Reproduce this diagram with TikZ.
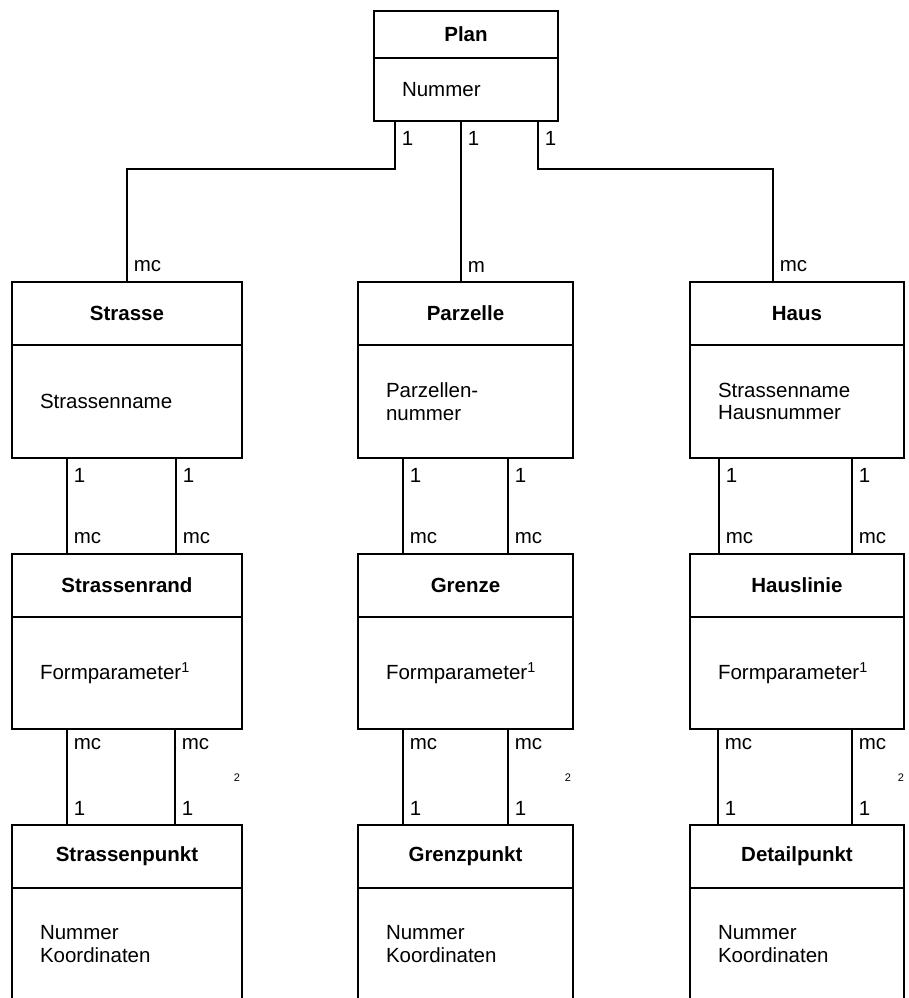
\documentclass[tikz,border=0pt]{standalone}
\usepackage{fontspec}
\setmainfont{Liberation Sans}

\newcommand{\titleh}{63}
\newcommand{\bodyh}{112}
\newcommand{\txtfont}{\fontsize{20.5}{22.5}\selectfont}

\tikzset{
  titlebox/.style={draw, line width=1.8pt, outer sep=0pt, inner sep=0pt,
    minimum height=\titleh, font=\txtfont\bfseries},
  bodybox/.style={draw, line width=1.8pt, outer sep=0pt, inner xsep=28pt,
    inner ysep=0pt, minimum height=\bodyh, align=left, font=\txtfont},
  card/.style={inner xsep=6pt, inner ysep=9pt, font=\txtfont},
  conn/.style={line width=1.8pt},
  fnote/.style={inner sep=0pt, font=\fontsize{11}{12}\selectfont}
}

\begin{document}
\begin{tikzpicture}[x=1pt,y=-1pt]
     \clip (0,0) rectangle (909,998);

     % entities: name/left/top/width/title height/body height/title/attributes
     \foreach \n/\x/\y/\w/\hT/\hB/\ti/\tx in {
        plan/374/11/184/47/63/Plan/Nummer,
        strasse/12/282/230/63/113/Strasse/Strassenname,
        parzelle/358/282/215/63/113/Parzelle/{Parzellen-\\nummer},
        haus/690/282/214/63/113/Haus/{Strassenname\\Hausnummer},
        rand/12/554/230/63/112/Strassenrand/{Formparameter\textsuperscript{1}},
        grenze/358/554/215/63/112/Grenze/{Formparameter\textsuperscript{1}},
        linie/690/554/214/63/112/Hauslinie/{Formparameter\textsuperscript{1}},
        spunkt/12/825/230/63/112/Strassenpunkt/{Nummer\\Koordinaten},
        gpunkt/358/825/215/63/112/Grenzpunkt/{Nummer\\Koordinaten},
        dpunkt/690/825/214/63/112/Detailpunkt/{Nummer\\Koordinaten}}
     {
       \pgfmathsetmacro{\tw}{\w-56}
       \node [titlebox, minimum width=\w, minimum height=\hT, anchor=north west]
         (\n) at (\x,\y) {\ti};
       \node [bodybox, minimum height=\hB, text width=\tw pt, anchor=north]
         (\n-b) at (\n.south) {\tx};
     }

     % relations: from/offset/drop/to/offset/upper label/lower label
     \foreach \src/\a/\m/\dst/\b/\lo/\lu in {
        plan-b/21/48/strasse/115/1/mc,
        plan-b/87/48/parzelle/103/1/m,
        plan-b/164/48/haus/83/1/mc,
        strasse-b/55/40/rand/55/1/mc,
        strasse-b/164/40/rand/164/1/mc,
        parzelle-b/45/40/grenze/45/1/mc,
        parzelle-b/150/40/grenze/150/1/mc,
        haus-b/29/40/linie/29/1/mc,
        haus-b/162/40/linie/162/1/mc,
        rand-b/55/40/spunkt/55/mc/1,
        rand-b/163/40/spunkt/163/mc/1,
        grenze-b/45/40/gpunkt/45/mc/1,
        grenze-b/150/40/gpunkt/150/mc/1,
        linie-b/28/40/dpunkt/28/mc/1,
        linie-b/162/40/dpunkt/162/mc/1}
       \draw [conn] ([xshift=\a]\src.south west)
           node [card, anchor=north west] (\src-\a-o) {\lo}
         -- ++(0,\m) -| ([xshift=\b]\dst.north west)
           node [card, anchor=south west] (\dst-\b-u) {\lu};

     \foreach \n/\x in {s/237,g/568,d/901}
       \node [fnote] (two-\n) at (\x,778) {2};
\end{tikzpicture}
\end{document}
